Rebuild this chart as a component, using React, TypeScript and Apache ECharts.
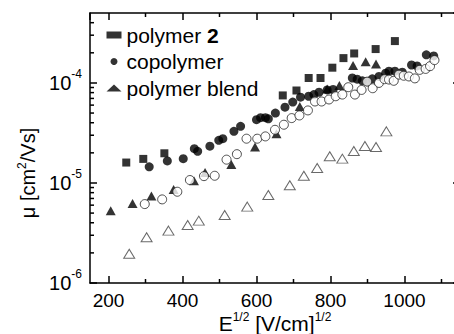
import React, { useEffect, useRef } from "react";
import * as echarts from "echarts";

const FONT = "'Liberation Sans', Arial, Helvetica, sans-serif";

const seriesNames = ["polymer 2", "copolymer", "polymer blend"];

const polymer2: [number, number][] = [
  [248, 1.6e-5], [294, 1.74e-5], [351, 1.98e-5], [671, 7.5e-5], [708, 8.4e-5],
  [741, 1.12e-4], [773, 1.12e-4], [805, 1.42e-4], [835, 1.77e-4], [864, 1.97e-4],
  [922, 2.18e-4], [974, 2.62e-4],
];

const copolymer: [number, number][] = [
  [310, 1.45e-5], [359, 1.66e-5], [402, 1.75e-5], [432, 2.2e-5], [441, 2.07e-5],
  [474, 2.33e-5], [498, 2.67e-5], [509, 2.77e-5], [539, 3.28e-5], [557, 3.68e-5],
  [600, 4.29e-5], [611, 4.49e-5], [624, 4.49e-5], [632, 4.38e-5], [651, 4.99e-5],
  [677, 5.72e-5], [698, 6.43e-5], [719, 7.2e-5], [741, 7.36e-5], [755, 7.65e-5],
  [769, 8.07e-5], [791, 8.51e-5], [807, 8.6e-5], [859, 1.12e-4], [872, 1.09e-4],
  [886, 1.05e-4], [899, 1.03e-4], [913, 1.1e-4], [931, 1.16e-4], [949, 1.25e-4],
  [958, 1.31e-4], [974, 1.31e-4], [994, 1.28e-4], [1019, 1.51e-4], [1034, 1.48e-4],
  [1059, 1.91e-4], [1079, 1.86e-4],
];

const polymerBlend: [number, number][] = [
  [206, 5.28e-6], [265, 6.25e-6], [316, 7.39e-6], [376, 8.61e-6], [431, 1.05e-5],
  [461, 1.27e-5], [532, 1.53e-5], [596, 2.29e-5], [654, 3.11e-5], [717, 5.82e-5],
  [791, 8.7e-5], [824, 9.4e-5], [861, 1.49e-4], [895, 1.63e-4], [923, 1.55e-4],
];

const openCircles: [number, number][] = [
  [298, 6.15e-6], [345, 6.85e-6], [386, 8.17e-6], [420, 1.07e-5], [458, 1.17e-5],
  [487, 1.18e-5], [519, 1.71e-5], [547, 1.94e-5], [573, 2.77e-5], [602, 2.77e-5],
  [624, 2.92e-5], [650, 3.4e-5], [674, 3.82e-5], [695, 4.45e-5], [716, 4.73e-5],
  [739, 5.31e-5], [758, 6.52e-5], [776, 6.52e-5], [796, 6.83e-5], [814, 7.36e-5],
  [832, 7.65e-5], [848, 9.06e-5], [866, 7.65e-5], [884, 8.51e-5], [899, 1.03e-4],
  [914, 8.85e-5], [931, 1.0e-4], [946, 1.09e-4], [958, 1.08e-4], [971, 1.05e-4],
  [985, 1.21e-4], [998, 1.18e-4], [1012, 1.16e-4], [1028, 1.11e-4], [1041, 1.35e-4],
  [1057, 1.38e-4], [1069, 1.47e-4], [1081, 1.69e-4],
];

const openTriangles: [number, number][] = [
  [256, 1.96e-6], [303, 2.87e-6], [362, 3.34e-6], [414, 3.8e-6], [444, 4.2e-6],
  [514, 4.79e-6], [575, 5.8e-6], [632, 7.57e-6], [690, 9.5e-6], [728, 1.18e-5],
  [764, 1.41e-5], [798, 1.85e-5], [832, 1.75e-5], [863, 2.09e-5], [893, 2.34e-5],
  [923, 2.29e-5], [951, 3.28e-5],
];

const xMin = 150;
const xMax = 1150;
const yMin = 1e-6;
const yMax = 5e-4;
const xMinorTicks = [300, 500, 700, 900, 1100];
const yMinorTicks = [
  2e-6, 3e-6, 4e-6, 5e-6, 6e-6, 7e-6, 8e-6, 9e-6,
  2e-5, 3e-5, 4e-5, 5e-5, 6e-5, 7e-5, 8e-5, 9e-5,
  2e-4, 3e-4, 4e-4,
];

export default function App() {
  const ref = useRef<HTMLDivElement>(null);

  useEffect(() => {
    if (!ref.current) return;
    const chart = echarts.init(ref.current, null, { renderer: "svg" });

    const axisLine = { show: true, lineStyle: { color: "#000", width: 1.5 } };
    const majorTick = { show: true, inside: true, length: 7, lineStyle: { color: "#000", width: 1.5 } };

    const option: any = {
      animation: false,
      backgroundColor: "#fff",
      textStyle: { fontFamily: FONT, color: "#000" },
      grid: { left: 90, top: 13, right: -6, bottom: 51, containLabel: false, outerBoundsMode: "none" },
      legend: {
        data: seriesNames,
        orient: "vertical",
        left: 101.5,
        top: 19,
        itemWidth: 15,
        itemHeight: 7,
        itemGap: 4.5,
        selectedMode: false,
        textStyle: {
          fontFamily: FONT,
          fontSize: 21,
          lineHeight: 22,
          color: "#000",
          rich: {
            n: { fontFamily: FONT, fontSize: 21, color: "#000" },
            b: { fontFamily: FONT, fontSize: 21, fontWeight: "bold", color: "#000" },
          },
        },
        formatter: (name: string) =>
          name === "polymer 2" ? "{n|polymer }{b|2}" : name,
      },
      xAxis: [
        {
          type: "value",
          position: "bottom",
          min: xMin,
          max: xMax,
          axisLine,
          axisTick: majorTick,
          splitLine: { show: false },
          axisLabel: {
            showMinLabel: false,
            showMaxLabel: false,
            margin: 8,
            fontFamily: FONT,
            fontSize: 19,
            color: "#000",
            formatter: (v: number) => String(v),
          },
          name: "{n|E}{s|1/2}{n| [V/cm]}{s|1/2}",
          nameLocation: "middle",
          nameGap: 28,
          nameMoveOverlap: false,
          nameTextStyle: {
            rich: {
              n: { fontFamily: FONT, fontSize: 21, color: "#000", lineHeight: 24 },
              s: { fontFamily: FONT, fontSize: 12, color: "#000", verticalAlign: "top", lineHeight: 14 },
            },
          },
        },
        {
          type: "value",
          position: "top",
          min: xMin,
          max: xMax,
          axisLine,
          axisTick: majorTick,
          splitLine: { show: false },
          axisLabel: { show: false },
        },
      ],
      yAxis: [
        {
          type: "log",
          logBase: 10,
          position: "left",
          min: yMin,
          max: yMax,
          axisLine,
          axisTick: majorTick,
          splitLine: { show: false },
          axisLabel: {
            showMaxLabel: false,
            margin: 8,
            formatter: (v: number) => {
              const e = Math.round(Math.log10(v));
              return `{b|10}{s|${e}}`;
            },
            rich: {
              b: { fontFamily: FONT, fontSize: 20, color: "#000", lineHeight: 30 },
              s: { fontFamily: FONT, fontSize: 12, color: "#000", verticalAlign: "top", lineHeight: 14 },
            },
          },
          name: "{n|μ [cm}{s|2}{n|/Vs]}{sp| }",
          nameLocation: "middle",
          nameGap: 50,
          nameRotate: 90,
          nameMoveOverlap: false,
          nameTextStyle: {
            rich: {
              n: { fontFamily: FONT, fontSize: 20, color: "#000", lineHeight: 24 },
              s: { fontFamily: FONT, fontSize: 12, color: "#000", verticalAlign: "top", lineHeight: 14 },
              sp: { fontFamily: FONT, fontSize: 12, width: 50, color: "#000" },
            },
          },
        },
        {
          type: "log",
          logBase: 10,
          position: "right",
          min: yMin,
          max: yMax,
          axisLine,
          axisTick: majorTick,
          splitLine: { show: false },
          axisLabel: { show: false },
        },
      ],
      series: [
        {
          name: "polymer 2",
          type: "scatter",
          symbol: "rect",
          symbolSize: 8,
          itemStyle: { color: "#000" },
          data: polymer2,
        },
        {
          name: "copolymer",
          type: "scatter",
          symbol: "circle",
          symbolSize: 9,
          itemStyle: { color: "#000" },
          data: copolymer,
        },
        {
          name: "polymer blend",
          type: "scatter",
          symbol: "triangle",
          symbolSize: [10, 9],
          itemStyle: { color: "#000" },
          data: polymerBlend,
        },
        {
          name: "open circles",
          type: "scatter",
          symbol: "circle",
          symbolSize: 9,
          itemStyle: { color: "#fff", borderColor: "#222", borderWidth: 1 },
          data: openCircles,
        },
        {
          name: "open triangles",
          type: "scatter",
          symbol: "triangle",
          symbolSize: [11, 9],
          itemStyle: { color: "#fff", borderColor: "#444", borderWidth: 1 },
          data: openTriangles,
        },
        {
          name: "minor ticks",
          type: "custom",
          silent: true,
          clip: false,
          data: [[xMin, yMin]],
          renderItem: (params: any, api: any) => {
            const cs = params.coordSys;
            const left = cs.x;
            const right = cs.x + cs.width;
            const top = cs.y;
            const bottom = cs.y + cs.height;
            const st = { stroke: "#000", lineWidth: 1.5 };
            const len = 4;
            const children: any[] = [];
            for (const v of xMinorTicks) {
              const px = api.coord([v, yMin])[0];
              children.push({ type: "line", shape: { x1: px, y1: bottom, x2: px, y2: bottom - len }, style: st });
              children.push({ type: "line", shape: { x1: px, y1: top, x2: px, y2: top + len }, style: st });
            }
            for (const v of yMinorTicks) {
              const py = api.coord([xMin, v])[1];
              children.push({ type: "line", shape: { x1: left, y1: py, x2: left + len, y2: py }, style: st });
              children.push({ type: "line", shape: { x1: right, y1: py, x2: right - len, y2: py }, style: st });
            }
            return { type: "group", children };
          },
        },
      ],
    };

    chart.setOption(option);
    return () => {
      chart.dispose();
    };
  }, []);

  return <div ref={ref} style={{ width: 454, height: 334, position: "absolute", left: 0, top: 0 }} />;
}
